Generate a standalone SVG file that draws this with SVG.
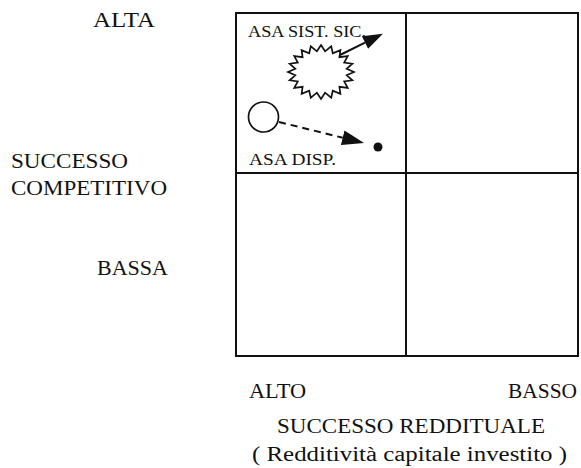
<svg xmlns="http://www.w3.org/2000/svg" width="581" height="468" viewBox="0 0 581 468">
<style>
text{font-family:"Liberation Serif","DejaVu Serif",serif;fill:#111}
.lab{font-size:20px}
.small{font-size:16px}
.grid{fill:none;stroke:#111;stroke-width:2}
.shape{fill:none;stroke:#111;stroke-width:1.7}
.conn{fill:none;stroke:#111;stroke-width:2}
</style>
<defs>
<marker id="headS" markerUnits="userSpaceOnUse" viewBox="0 0 20 14" refX="0" refY="7" markerWidth="20" markerHeight="14" orient="auto">
<path d="M0,0 L20,7 L0,14 z" fill="#111" stroke="none"/>
</marker>
<marker id="headD" markerUnits="userSpaceOnUse" viewBox="0 0 22 15" refX="0" refY="7.5" markerWidth="22" markerHeight="15" orient="auto">
<path d="M0,0 L22,7.5 L0,15 z" fill="#111" stroke="none"/>
</marker>
</defs>
<rect width="581" height="468" fill="#fff"/>
<g id="matrix">
<rect class="grid" x="236" y="13" width="342" height="343"/>
<line class="grid" x1="406" y1="13" x2="406" y2="356"/>
<line class="grid" x1="236" y1="173" x2="578" y2="173"/>
</g>
<g id="axis-y" font-family="Liberation Serif, DejaVu Serif, serif">
<text class="lab" x="93" y="27" textLength="62" lengthAdjust="spacingAndGlyphs">ALTA</text>
<text class="lab" x="11" y="168" textLength="117" lengthAdjust="spacingAndGlyphs">SUCCESSO</text>
<text class="lab" x="11" y="195" textLength="156" lengthAdjust="spacingAndGlyphs">COMPETITIVO</text>
<text class="lab" x="97" y="275" textLength="71" lengthAdjust="spacingAndGlyphs">BASSA</text>
</g>
<g id="axis-x" font-family="Liberation Serif, DejaVu Serif, serif">
<text class="lab" x="249" y="398" textLength="57" lengthAdjust="spacingAndGlyphs">ALTO</text>
<text class="lab" x="508" y="398" textLength="69" lengthAdjust="spacingAndGlyphs">BASSO</text>
<text class="lab" x="277" y="433" textLength="268" lengthAdjust="spacingAndGlyphs">SUCCESSO REDDITUALE</text>
<text class="lab" x="252" y="461" textLength="315" lengthAdjust="spacingAndGlyphs">( Redditività capitale investito )</text>
</g>
<g id="asa-sist-sic">
<text class="small" x="248" y="37" textLength="118" lengthAdjust="spacingAndGlyphs">ASA SIST. SIC.</text>
<polygon class="shape" points="354,72 346.7,75.3 352.4,80.3 344.2,81.5 347.7,87.9 339.4,86.8 340.4,93.8 332.8,90.7 331.2,97.7 325.1,92.7 321,99 316.9,92.7 310.8,97.7 309.2,90.7 301.6,93.8 302.6,86.8 294.3,87.9 297.8,81.5 289.6,80.3 295.3,75.3 288,72 295.3,68.7 289.6,63.7 297.8,62.5 294.3,56.1 302.6,57.2 301.6,50.2 309.2,53.3 310.8,46.3 316.9,51.3 321,45 325.1,51.3 331.2,46.3 332.8,53.3 340.4,50.2 339.4,57.2 347.7,56.1 344.2,62.5 352.4,63.7 346.7,68.7"/>
</g>
<g id="asa-disp">
<circle class="shape" cx="263.5" cy="117" r="15"/>
<text class="small" x="249" y="165" textLength="87" lengthAdjust="spacingAndGlyphs">ASA DISP.</text>
</g>
<g id="target-dot">
<circle cx="378" cy="147" r="4.5" fill="#111"/>
</g>
<g id="connectors">
<line class="conn" x1="340" y1="55" x2="365" y2="42.6" marker-end="url(#headS)"/>
<line class="conn" x1="279" y1="122" x2="342.7" y2="137.7" stroke-dasharray="7 5" marker-end="url(#headD)"/>
</g>
</svg>
